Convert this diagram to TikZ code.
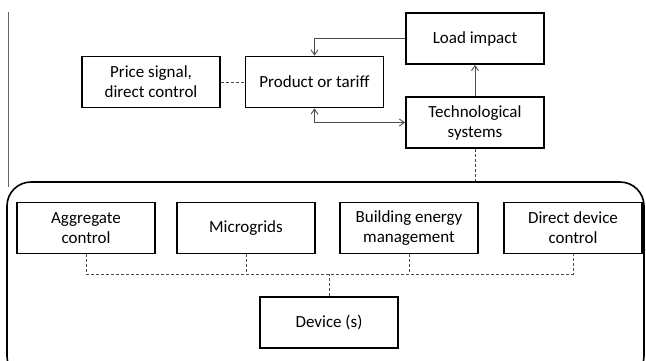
\documentclass[tikz,border=0pt]{standalone}
\usepackage{fontspec}
\setmainfont{Carlito}
\usetikzlibrary{positioning}
\usetikzlibrary{arrows.meta}

\begin{document}
\begin{tikzpicture}[x=1pt, y=-1pt,
    box/.style={draw, rectangle, line width=1.8pt, align=center, inner sep=0pt,
                minimum width=138pt, minimum height=51pt,
                font=\fontsize{17}{20}\selectfont},
    link/.style={draw=black!70, line width=0.9pt},
    dashlink/.style={draw=black!70, line width=0.9pt, dash pattern=on 3pt off 2pt},
    tip/.style={-{Straight Barb[length=5pt,width=7pt]}}]
            \clip (0,0) rectangle (646,360);

            \draw[black!60, line width=1pt] (8,12) -- (8,187);
            \node[draw, rectangle, rounded corners=24pt, line width=1.6pt,
                  minimum width=637pt, minimum height=198pt] (frame) at (325.5,281) {};

            \node[box] (price) at (151,82) {Price signal,\\direct control};
            \node[box] (product) at (314.5,82) {Product or tariff};
            \node[box] (load) at (475,38.5) {Load impact};
            \node[box] (tech) at (475,122.5) {Technological\\systems};

            \draw[dashlink] (price) -- (product);
            \draw[link, tip] (load.west) -| (product.north);
            \draw[link, {Straight Barb[length=5pt,width=7pt]}-{Straight Barb[length=5pt,width=7pt]}] (product.south) |- (tech.west);
            \draw[link, tip] (tech.north) -- (load.south);
            \draw[dashlink] (tech.south) -- (tech.south |- frame.north);

            \node[box] (aggregate) at (86,228) {Aggregate\\control};
            \node[box] (micro) at (246,228) {Microgrids};
            \node[box] (building) at (409,228) {Building energy\\management};
            \node[box] (direct) at (573,228) {Direct device\\control};
            \node[box] (device) at (329,322.5) {Device (s)};

            \coordinate (bus) at (0,274);
            \draw[dashlink] (aggregate.south) -- (aggregate.south |- bus) -| (direct.south);
            \draw[dashlink] (micro.south) -- (micro.south |- bus);
            \draw[dashlink] (building.south) -- (building.south |- bus);
            \draw[dashlink] (device.north) -- (device.north |- bus);
        \end{tikzpicture}
\end{document}
